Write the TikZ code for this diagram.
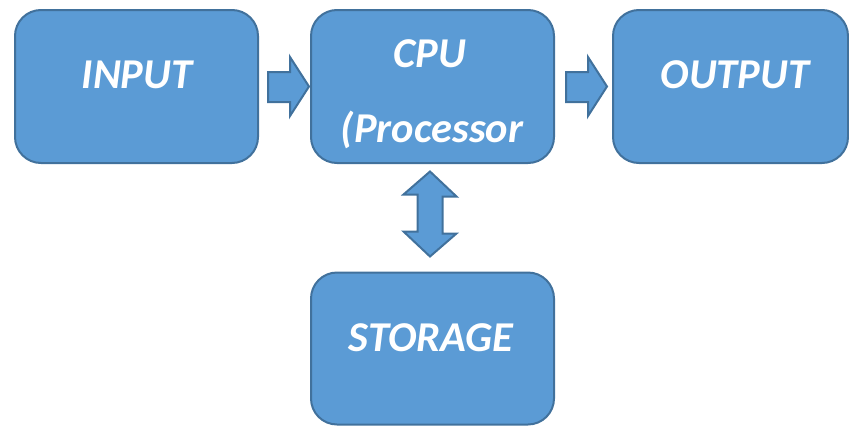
\documentclass[tikz,border=0pt]{standalone}
\usepackage{fontspec}
\setmainfont{Carlito}
\usetikzlibrary{calc}
\definecolor{boxfill}{HTML}{5B9BD5}
\definecolor{boxline}{HTML}{41719C}
\tikzset{
  blockbox/.style={draw=boxline, fill=boxfill, line width=2pt, rounded corners=26pt, inner sep=0pt, minimum width=243pt, minimum height=153pt},
  blocktext/.style={text=white, font=\fontsize{42.5}{50}\selectfont\bfseries\itshape, anchor=base, inner sep=0pt},
  blockarrow/.style={draw=boxline, fill=boxfill, line width=2pt, line join=miter}
}
\begin{document}
\begin{tikzpicture}[x=1pt,y=-1pt]
\useasboundingbox (0,0) rectangle (849,426);
\node[blockbox] (inp) at (136.5,86.5) {};
\node[blockbox] (cpu) at (432.5,86.5) {};
\node[blockbox, minimum width=235pt] (out) at (730.5,86.5) {};
\node[blockbox, minimum width=243pt, minimum height=152pt] (sto) at (432.5,348.5) {};
\node[blocktext] (tin) at (137,88) {INPUT};
\node[blocktext] (tcpu) at (430,67) {CPU};
\node[blocktext] (tproc) at (432,142) {(Processor};
\node[blocktext] (tout) at (735,88) {OUTPUT};
\node[blocktext] (tsto) at (431,351) {STORAGE};
% block arrows
\draw[blockarrow] ($(inp.east)+(9,-14.5)$) -- ++(22,0) -- ++(0,-15) -- ($(cpu.west)+(-1,0)$) -- ($(inp.east)+(31,29.5)$) -- ++(0,-14) -- ++(-22,0) -- cycle;
\draw[blockarrow] ($(cpu.east)+(11,-14.5)$) -- ++(22,0) -- ++(0,-15) -- ($(out.west)+(-5,0)$) -- ($(cpu.east)+(33,29.5)$) -- ++(0,-14) -- ++(-22,0) -- cycle;
\draw[blockarrow] ($(cpu.south)+(-2.5,7.5)$) -- ++(26.5,25) -- ++(-14,0) -- ++(0,37) -- ++(14,0) -- ($(sto.north)+(-2.5,-15)$) -- ++(-26.5,-25) -- ++(14,0) -- ++(0,-37) -- ++(-14,0) -- cycle;
\end{tikzpicture}
\end{document}
